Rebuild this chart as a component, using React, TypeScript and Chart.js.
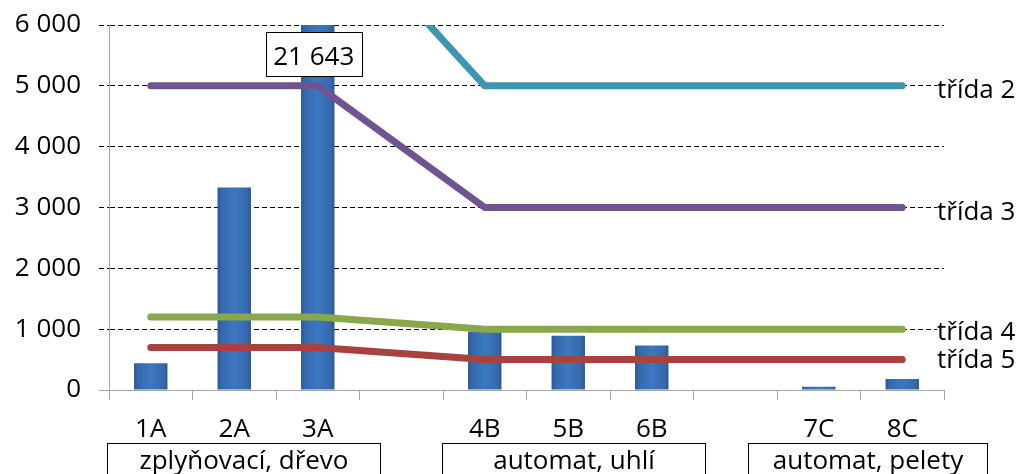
import React, { useEffect, useRef } from 'react';
import { Chart, registerables } from 'chart.js';

Chart.register(...registerables);

const categories = ['1A', '2A', '3A', '', '4B', '5B', '6B', '', '7C', '8C'];
const measuredValues = [440, 3330, 21643, null, 960, 890, 730, null, 55, 180];
const class2Limits = [8000, 8000, 8000, null, 5000, 5000, 5000, null, 5000, 5000];
const class3Limits = [5000, 5000, 5000, null, 3000, 3000, 3000, null, 3000, 3000];
const class4Limits = [1200, 1200, 1200, null, 1000, 1000, 1000, null, 1000, 1000];
const class5Limits = [700, 700, 700, null, 500, 500, 500, null, 500, 500];
const classLabels = ['třída 2', 'třída 3', 'třída 4', 'třída 5'];
const classColors = ['#3E96B0', '#6E5490', '#8AA84A', '#A9413F'];
const groupLabels = ['zplyňovací, dřevo', 'automat, uhlí', 'automat, pelety'];
const groupFirst = [0, 4, 8];
const groupLast = [2, 6, 9];
const yMin = 0;
const yMax = 6000;
const yStep = 1000;

const FONT = '"Open Sans", Lato, sans-serif';
const FONT_SIZE = 26;
const GRAY = '#A6A6A6';

const fmt = (v: number) => String(Math.round(v)).replace(/\B(?=(\d{3})+(?!\d))/g, ' ');

// box extents around each group, relative to first/last category centre (px)
const boxLeftOffset = [-44, -43, -71];
const boxRightOffset = [62, 53, 85];

const annotationPlugin = {
  id: 'annotations',
  afterDraw(chart: any) {
    const ctx = chart.ctx;
    const area = chart.chartArea;
    const xs = chart.scales.x;
    ctx.save();
    ctx.font = `${FONT_SIZE}px ${FONT}`;
    ctx.fillStyle = '#000';

    // callout for values exceeding the axis
    measuredValues.forEach((v, i) => {
      if (v != null && v > yMax) {
        const cx = xs.getPixelForValue(i) - 4;
        const text = fmt(v);
        const w = 96;
        const h = 44;
        const top = area.top + 7;
        const left = Math.round(cx - w / 2) + 0.5;
        ctx.fillStyle = '#fff';
        ctx.fillRect(left, top, w, h);
        ctx.strokeStyle = '#000';
        ctx.lineWidth = 1;
        ctx.strokeRect(left, top + 0.5, w, h);
        ctx.fillStyle = '#000';
        ctx.textAlign = 'center';
        ctx.textBaseline = 'alphabetic';
        ctx.fillText(text, cx, top + 33);
      }
    });

    // class labels at right
    const offsets = [12, 12, 11, 8];
    for (let d = 0; d < 4; d++) {
      const meta = chart.getDatasetMeta(d);
      const last = meta.data[meta.data.length - 1];
      const y = last.y;
      const tx = area.right - 7;
      const tw = ctx.measureText(classLabels[d]).width;
      ctx.fillStyle = '#fff';
      ctx.fillRect(tx, y - 3, tw + 4, 8);
      ctx.fillStyle = '#000';
      ctx.textAlign = 'left';
      ctx.textBaseline = 'alphabetic';
      ctx.fillText(classLabels[d], tx, y + offsets[d]);
    }

    // group boxes
    groupLabels.forEach((label, g) => {
      const left = Math.round(xs.getPixelForValue(groupFirst[g]) + boxLeftOffset[g]) + 0.5;
      const right = Math.round(xs.getPixelForValue(groupLast[g]) + boxRightOffset[g]) + 0.5;
      const top = 443.5;
      ctx.strokeStyle = '#000';
      ctx.lineWidth = 1;
      ctx.strokeRect(left, top, right - left, 40);
      ctx.fillStyle = '#000';
      ctx.textAlign = 'center';
      ctx.textBaseline = 'alphabetic';
      ctx.fillText(label, (left + right) / 2, 469);
    });
    ctx.restore();
  },
};

export default function App() {
  const ref = useRef<HTMLCanvasElement>(null);
  useEffect(() => {
    if (!ref.current) return;
    const lineDs = (data: (number | null)[], i: number) => ({
      type: 'line' as const,
      data,
      borderColor: classColors[i],
      backgroundColor: classColors[i],
      borderWidth: 7,
      borderCapStyle: 'round' as const,
      borderJoinStyle: 'round' as const,
      pointRadius: 0,
      spanGaps: true,
      tension: 0,
      clip: 0,
      order: 0,
    });
    const chart = new Chart(ref.current, {
      type: 'bar',
      data: {
        labels: categories,
        datasets: [
          lineDs(class2Limits, 0),
          lineDs(class3Limits, 1),
          lineDs(class4Limits, 2),
          lineDs(class5Limits, 3),
          {
            type: 'bar',
            data: measuredValues,
            barPercentage: 0.4,
            categoryPercentage: 1,
            clip: 0,
            order: 1,
            borderWidth: 0,
            backgroundColor: (c: any) => {
              const xs = c.chart.scales && c.chart.scales.x;
              if (!xs || c.dataIndex == null) return '#3A70B5';
              const x = xs.getPixelForValue(c.dataIndex);
              if (!Number.isFinite(x)) return '#3A70B5';
              const g = c.chart.ctx.createLinearGradient(x - 17, 0, x + 17, 0);
              g.addColorStop(0, '#2A5590');
              g.addColorStop(0.12, '#3568AC');
              g.addColorStop(0.5, '#3D78C0');
              g.addColorStop(0.88, '#3568AC');
              g.addColorStop(1, '#2A5590');
              return g;
            },
          } as any,
        ],
      },
      options: {
        responsive: false,
        animation: false,
        devicePixelRatio: 1,
        layout: { padding: { top: 25, right: 86, left: 0, bottom: 0 } },
        plugins: { legend: { display: false }, tooltip: { enabled: false } },
        scales: {
          x: {
            afterFit: (s: any) => { s.height = 84; s.paddingLeft = 0; s.paddingRight = 0; },
            grid: {
              display: true,
              drawOnChartArea: false,
              drawTicks: true,
              tickLength: 10,
              tickColor: GRAY,
              offset: true,
            },
            border: { display: true, color: GRAY, width: 1 },
            ticks: {
              autoSkip: false,
              maxRotation: 0,
              padding: 14,
              color: '#000',
              font: { family: FONT, size: FONT_SIZE },
            },
          },
          y: {
            min: yMin,
            max: yMax,
            afterFit: (s: any) => { s.width = 109; s.paddingTop = 0; s.paddingBottom = 0; },
            grid: {
              color: (c: any) => (c.tick && c.tick.value === 0 ? GRAY : '#000'),
              tickColor: (c: any) => (c.tick && c.tick.value === 0 ? GRAY : '#000'),
              tickBorderDash: (c: any) => (c.tick && c.tick.value !== 0 ? [5, 3] : []),
              tickLength: 10,
              lineWidth: 1,
            },
            border: {
              display: true,
              color: GRAY,
              width: 1,
              dash: (c: any) => (c.tick && c.tick.value !== 0 ? [5, 3] : []),
            } as any,
            ticks: {
              stepSize: yStep,
              padding: 18,
              color: '#000',
              font: { family: FONT, size: FONT_SIZE },
              callback: (v: any) => fmt(Number(v)),
            },
          },
        },
      },
      plugins: [annotationPlugin],
    });
    return () => chart.destroy();
  }, []);
  return (
    <div style={{ position: 'fixed', left: 0, top: 0, width: 1030, height: 474, background: '#fff' }}>
      <canvas ref={ref} width={1030} height={474} />
    </div>
  );
}
